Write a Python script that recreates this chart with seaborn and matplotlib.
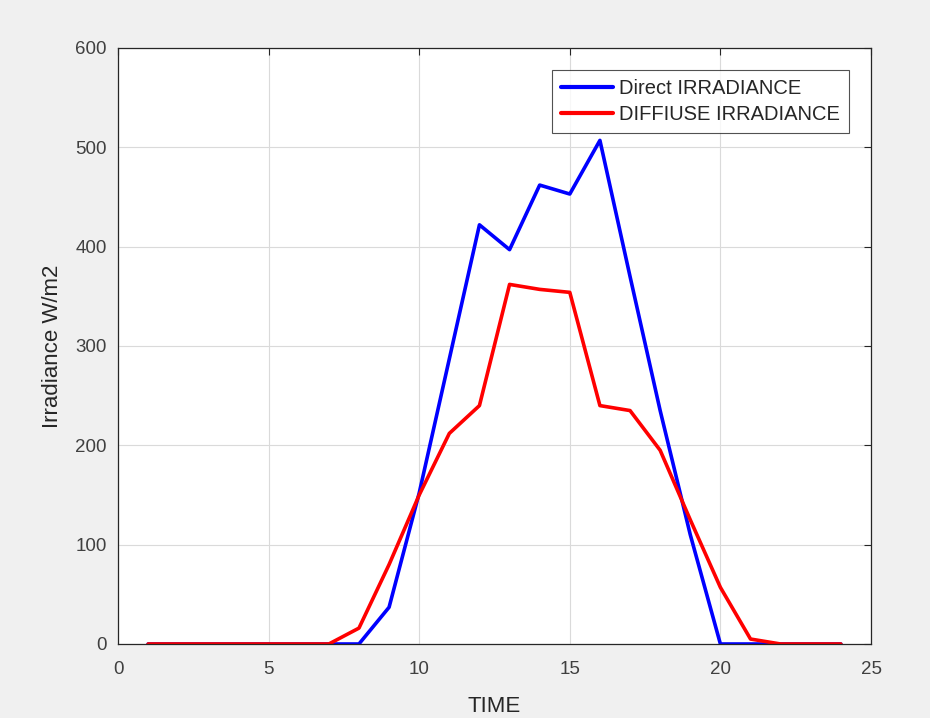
import matplotlib
matplotlib.use("Agg")
import matplotlib.pyplot as plt
import seaborn as sns
import pandas as pd

hours = list(range(1, 25))
direct = [0, 0, 0, 0, 0, 0, 0, 0, 37, 152, 287, 422, 397, 462, 453, 507,
          370, 235, 110, 0, 0, 0, 0, 0]
diffuse = [0, 0, 0, 0, 0, 0, 0, 16, 80, 150, 212, 240, 362, 357, 354, 240,
           235, 195, 125, 57, 5, 0, 0, 0]
series_names = ["Direct IRRADIANCE", "DIFFIUSE IRRADIANCE"]
colors = ["#0000ff", "#ff0000"]
x_ticks = [0, 5, 10, 15, 20, 25]
y_ticks = [0, 100, 200, 300, 400, 500, 600]

df = pd.DataFrame({
    "TIME": hours * 2,
    "value": direct + diffuse,
    "series": [series_names[0]] * len(hours) + [series_names[1]] * len(hours),
})

sns.set_theme(style="white")
plt.rcParams["font.family"] = ["Liberation Sans", "DejaVu Sans"]

fig = plt.figure(figsize=(9.3, 7.18), dpi=100, facecolor="#f0f0f0")
ax = fig.add_axes([118 / 930, 1 - 644 / 718, (871 - 118) / 930, (644 - 48) / 718])
ax.set_facecolor("white")

sns.lineplot(data=df, x="TIME", y="value", hue="series", palette=colors,
             linewidth=2.6, ax=ax, legend=True)

ax.set_xlim(0, 25)
ax.set_ylim(0, 600)
ax.set_xticks(x_ticks)
ax.set_yticks(y_ticks)
ax.grid(True, color="#dadada", linewidth=0.8)
ax.tick_params(direction="in", length=5, width=0.8, colors="#262626",
               labelsize=13.5, top=True, right=True, labelcolor="#404040")
ax.tick_params(axis="x", pad=12)
ax.tick_params(axis="y", pad=8)
for s in ax.spines.values():
    s.set_color("#262626")
    s.set_linewidth(0.9)
    s.set_visible(True)

ax.set_xlabel("TIME", fontsize=16, color="#262626", labelpad=13)
ax.set_ylabel("Irradiance W/m2", fontsize=16, color="#262626", labelpad=9)

leg = ax.legend(loc="upper right", bbox_to_anchor=((849 - 118) / (871 - 118), (644 - 70) / (644 - 48)),
                fontsize=14.5, frameon=True, fancybox=False, handlelength=2.6,
                borderpad=0.45, labelspacing=0.35, handletextpad=0.3,
                borderaxespad=0)
leg.get_frame().set_edgecolor("#262626")
leg.get_frame().set_linewidth(0.8)
for line in leg.get_lines():
    line.set_linewidth(3)

fig.savefig("out.png", dpi=100, facecolor=fig.get_facecolor())
